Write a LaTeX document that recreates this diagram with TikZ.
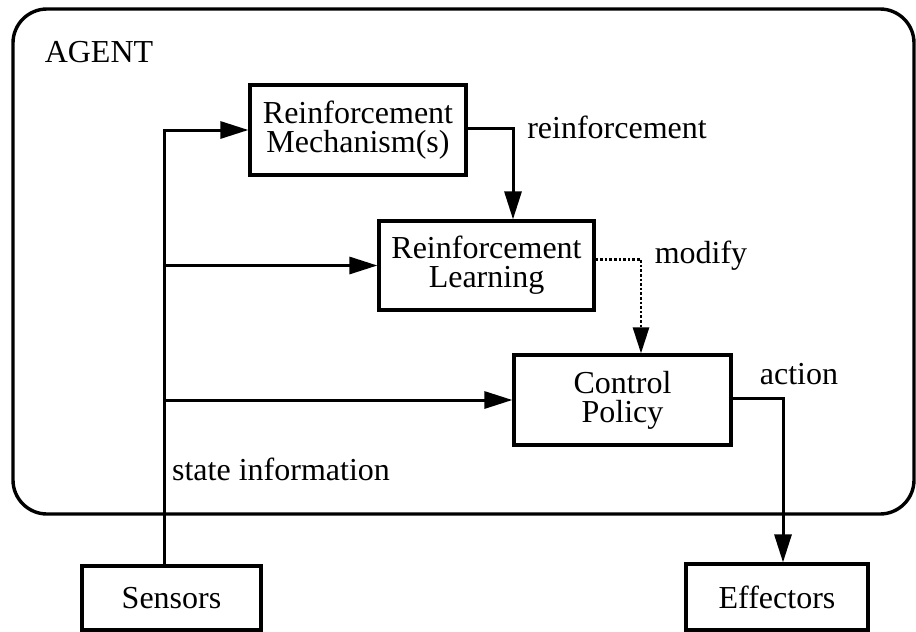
\documentclass[tikz,border=0pt]{standalone}
\usepackage{fontspec}
\setmainfont{Liberation Serif}
\usetikzlibrary{arrows.meta,positioning}
\begin{document}
\begin{tikzpicture}[x=1pt,y=-1pt,
  every node/.style={font=\fontsize{32}{29}\selectfont},
  box/.style={draw,line width=3.2pt,inner sep=0pt,align=center},
  conn/.style={line width=3pt},
  arr/.style={conn,-{Triangle[length=28pt,width=17pt]}},
  darr/.style={line width=2.6pt,dotted,-{Triangle[length=26pt,width=16pt]}},
  lbl/.style={inner sep=0pt}
]
\useasboundingbox (0,0) rectangle (916,632);
% agent frame
\draw[line width=3.4pt,rounded corners=34pt] (13,9) rectangle (914,514);
\node[lbl] (agent) at (99,52) {AGENT};
% boxes
\node[box,minimum width=216pt,minimum height=90pt] (rm) at (358,130) {Reinforcement\\Mechanism(s)};
\node[box,minimum width=215pt,minimum height=89pt] (rl) at (486.5,265.5) {Reinforcement\\Learning};
\node[box,minimum width=217pt,minimum height=90pt] (cp) at (622.5,400) {Control\\Policy};
\node[box,minimum width=179pt,minimum height=64pt] (sens) at (171.5,598) {Sensors};
\node[box,minimum width=182pt,minimum height=66pt] (eff) at (777,597) {Effectors};
% labels
\node[lbl] (lreinf) at (617,127) {reinforcement};
\node[lbl] (lmod) at (701,256) {modify};
\node[lbl] (lact) at (799,374) {action};
\node[lbl] (lstate) at (281,469) {state information};
% helper coordinates
\coordinate (trunk) at (164,0);
\coordinate (c1) at (513,0);
\coordinate (c2) at (641,0);
\coordinate (c3) at (783,0);
% connectors
\draw[arr] (trunk |- sens.north) |- (rm.west);
\draw[arr] (trunk |- rl.west) -- (rl.west);
\draw[arr] (trunk |- cp.west) -- (cp.west);
\draw[arr] ([yshift=2pt]rm.east) -| (c1 |- rl.north);
\draw[darr] ([yshift=6pt]rl.east) -| (c2 |- cp.north);
\draw[arr] ([yshift=2pt]cp.east) -| (c3 |- eff.north);
\end{tikzpicture}
\end{document}
